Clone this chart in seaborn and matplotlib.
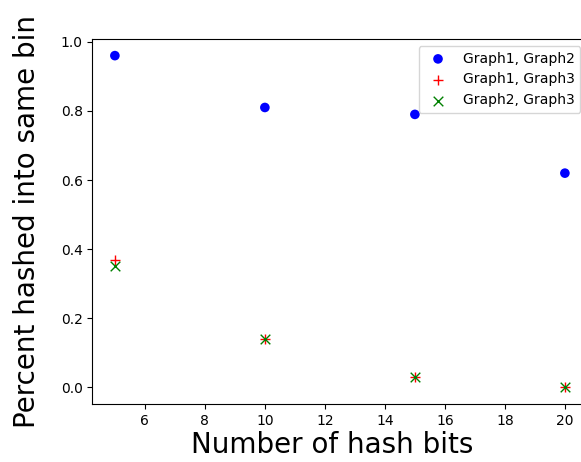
import matplotlib
matplotlib.use("Agg")
import matplotlib.pyplot as plt
import seaborn as sns
import pandas as pd

hash_bits = [5, 10, 15, 20]
graph1_graph2 = [0.96, 0.81, 0.79, 0.62]
graph1_graph3 = [0.37, 0.14, 0.03, 0.00]
graph2_graph3 = [0.35, 0.14, 0.03, 0.00]

series = [
    ("Graph1, Graph2", graph1_graph2, "blue", "o"),
    ("Graph1, Graph3", graph1_graph3, "red", "+"),
    ("Graph2, Graph3", graph2_graph3, "green", "x"),
]

fig = plt.figure(figsize=(5.81, 4.62), dpi=100)
ax = fig.add_axes([0.159, 0.1255, 0.852, 0.790])

for label, values, color, marker in series:
    df = pd.DataFrame({"bits": hash_bits, "pct": values})
    kw = dict(edgecolor="none") if marker == "o" else dict(linewidth=1.0)
    sns.scatterplot(data=df, x="bits", y="pct", color=color, marker=marker,
                    s=48, label=label, ax=ax, **kw)

ax.set_xticks([6, 8, 10, 12, 14, 16, 18, 20])
ax.set_yticks([0.0, 0.2, 0.4, 0.6, 0.8, 1.0])
ax.set_xlim(4.25, 20.75)
ax.set_ylim(-0.048, 1.008)
ax.tick_params(labelsize=10)
ax.set_xlabel("Number of hash bits", fontsize=20)
ax.set_ylabel("Percent hashed into same bin", fontsize=20, labelpad=14)
ax.xaxis.set_label_coords(0.484, -0.075)
ax.legend(loc="upper right", fontsize=10)

fig.savefig("out.png", dpi=100)
